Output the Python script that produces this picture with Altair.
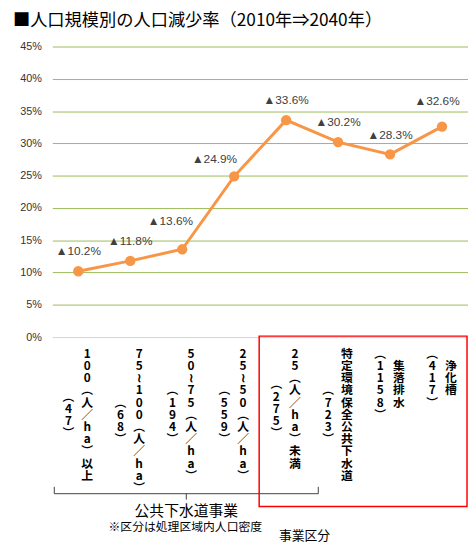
import altair as alt
import pandas as pd

# ---- data ----
categories = ["100(人/ha)以上", "75~100(人/ha)", "50~75(人/ha)", "25~50(人/ha)",
              "25(人/ha)未満", "特定環境保全公共下水道", "集落排水", "浄化槽"]
counts = ["(47)", "(68)", "(194)", "(559)", "(275)", "(723)", "(1158)", "(417)"]
rates = [10.2, 11.8, 13.6, 24.9, 33.6, 30.2, 28.3, 32.6]
y_ticks = [0, 5, 10, 15, 20, 25, 30, 35, 40, 45]

chart_title = "■人口規模別の人口減少率（2010年⇒2040年）"
group_label = "公共下水道事業"
group_note = "※区分は処理区域内人口密度"
x_title = "事業区分"

# vertical (tategaki) presentation of the category labels
VERT = {"(": "︵", ")": "︶", "/": "／", "~": "≀"}


def vertical(s):
    return "\n".join(VERT.get(c, c) for c in s)


df = pd.DataFrame({
    "cat": categories,
    "rate": rates,
    "label": ["▲%.1f%%" % r for r in rates],
    "main_v": [vertical(c) for c in categories],
    "cnt_v": [vertical(c) for c in counts],
    "n_main": [len(c) for c in categories],
    "n_cnt": [len(c) for c in counts],
})
one = pd.DataFrame({"k": [0]})

W, H = 422, 295
LH = 12.4          # line height of vertical labels
TOP = 307          # top of vertical label block (pixels below plot top)
ORANGE = "#F79646"
JP = "Noto Sans CJK JP"

# manual nudges of some value labels (as placed in the original), default above the point
LABEL_NUDGE = {categories[2]: (-12, -29), categories[3]: (-20, -18), categories[7]: (-5, -26)}
DEFAULT_NUDGE = (0, -20)

x = alt.X("cat:N", sort=categories, axis=None,
          scale=alt.Scale(type="point", padding=0.5))
y = alt.Y("rate:Q",
          scale=alt.Scale(domain=[0, 45], nice=False, zero=True),
          axis=alt.Axis(values=y_ticks, labelExpr="datum.value + '%'",
                        grid=True,
                        gridColor={"condition": {"test": "datum.value === 0", "value": "#d4d4d4"},
                                   "value": "#9BBB59"},
                        gridWidth=1, domain=False, ticks=False, labelPadding=11,
                        labelFontSize=11, labelFont="Liberation Sans",
                        labelColor="#333333", title=None))

base = alt.Chart(df)

line = base.mark_line(color=ORANGE, strokeWidth=3).encode(x=x, y=y)
pts = base.mark_circle(color=ORANGE, size=110, opacity=1).encode(x=x, y=y)

LBL_FONT = "Liberation Sans, Noto Sans CJK JP"
nudged = list(LABEL_NUDGE.keys())
lbl_layers = [
    base.transform_filter(alt.FieldOneOfPredicate(field="cat", oneOf=nudged).__invert__())
    .mark_text(dx=DEFAULT_NUDGE[0], dy=DEFAULT_NUDGE[1], fontSize=12, font=LBL_FONT,
               color="#404040")
    .encode(x=x, y=y, text="label:N")
]
for c, (ddx, ddy) in LABEL_NUDGE.items():
    lbl_layers.append(
        base.transform_filter(alt.FieldEqualPredicate(field="cat", equal=c))
        .mark_text(dx=ddx, dy=ddy, fontSize=12, font=LBL_FONT, color="#404040")
        .encode(x=x, y=y, text="label:N")
    )

# both columns of a label are centred on each other, the longer one starts at TOP
vlab = base.transform_calculate(
    nmax="max(datum.n_main, datum.n_cnt)",
).transform_calculate(
    y_main=f"{TOP} + (datum.nmax - datum.n_main) * {LH} / 2",
    y_cnt=f"{TOP} + (datum.nmax - datum.n_cnt) * {LH} / 2",
)
main_col = vlab.mark_text(lineBreak="\n", baseline="top", lineHeight=LH,
                          fontSize=12, font=JP, fontWeight="bold",
                          color="#000000", dx=9).encode(
    x=x, y=alt.Y("y_main:Q", scale=None, axis=None), text="main_v:N")
cnt_col = vlab.mark_text(lineBreak="\n", baseline="top", lineHeight=LH,
                         fontSize=12, font=JP, fontWeight="bold",
                         color="#000000", dx=-10).encode(
    x=x, y=alt.Y("y_cnt:Q", scale=None, axis=None), text="cnt_v:N")

ob = alt.Chart(one)
BR = "#404040"
br_h = ob.mark_rule(color=BR, strokeWidth=1).encode(
    x=alt.value(2), x2=alt.value(270), y=alt.value(454))
br_l = ob.mark_rule(color=BR, strokeWidth=1).encode(
    x=alt.value(2), y=alt.value(447), y2=alt.value(454))
br_r = ob.mark_rule(color=BR, strokeWidth=1).encode(
    x=alt.value(270), y=alt.value(447), y2=alt.value(454))
br_m = ob.mark_rule(color=BR, strokeWidth=1).encode(
    x=alt.value(136), y=alt.value(454), y2=alt.value(460))

red_box = ob.mark_rect(fillOpacity=0, stroke="#FF0000", strokeWidth=1.5).encode(
    x=alt.value(210), x2=alt.value(421), y=alt.value(294), y2=alt.value(467))

t_group = ob.mark_text(fontSize=15, font=JP, color="#000000").encode(
    x=alt.value(136), y=alt.value(472), text=alt.value(group_label))
t_note = ob.mark_text(fontSize=12, font=JP, color="#000000").encode(
    x=alt.value(135), y=alt.value(488), text=alt.value(group_note))
t_x = ob.mark_text(fontSize=13, font=JP, color="#000000").encode(
    x=alt.value(256), y=alt.value(497), text=alt.value(x_title))
t_title = ob.mark_text(fontSize=17.5, font=JP, color="#000000", align="left",
                       baseline="middle").encode(
    x=alt.value(-40), y=alt.value(-26), text=alt.value(chart_title))

chart = alt.layer(
    line, pts, *lbl_layers, main_col, cnt_col,
    br_h, br_l, br_r, br_m, red_box, t_group, t_note, t_x, t_title,
).properties(
    width=W, height=H,
    autosize=alt.AutoSizeParams(type="none"),
    padding={"left": 45, "top": 35, "right": 0, "bottom": 210},
).configure_view(stroke=None)

chart.save("out.html", embed_options={"renderer": "svg", "actions": False})
